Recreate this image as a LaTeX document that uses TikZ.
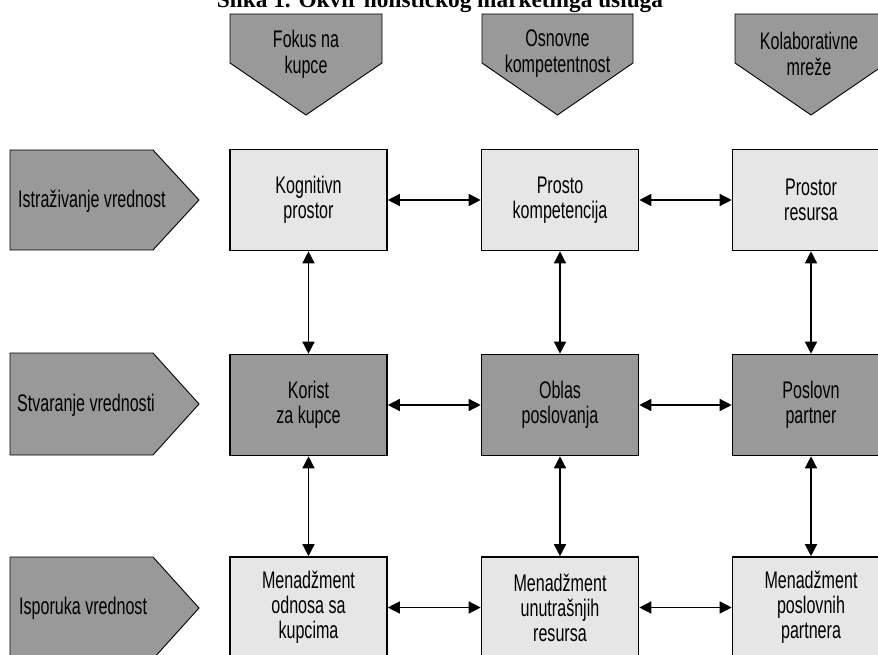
\documentclass[tikz,border=0pt]{standalone}
\usepackage{fontspec}
\setmainfont{Liberation Serif}
\newfontfamily\narrowsf[FakeStretch=0.67]{Liberation Sans}
\usetikzlibrary{arrows.meta,positioning}

\definecolor{darkfill}{HTML}{999999}
\definecolor{lightfill}{HTML}{E6E6E6}

\begin{document}
\begin{tikzpicture}[x=1pt, y=-1pt,
    box/.style={draw, rectangle, line width=1.6pt, minimum width=157pt, minimum height=101pt, inner sep=0pt, align=center, font=\narrowsf\fontsize{24}{25}\selectfont},
    lightbox/.style={box, fill=lightfill},
    darkbox/.style={box, fill=darkfill},
    pent/.style={draw, line width=0.9pt, fill=darkfill},
    headtext/.style={align=center, inner sep=0pt, font=\narrowsf\fontsize{24}{26}\selectfont},
    rowtext/.style={anchor=west, inner sep=0pt, font=\narrowsf\fontsize{24}{26}\selectfont},
    edge/.style={{Triangle[length=12pt,width=12pt]}-{Triangle[length=12pt,width=12pt]}, line width=1.4pt},
    title/.style={font=\bfseries\fontsize{23.3}{28}\selectfont},
]
\clip (0,0) rectangle (878,655);

\node[title, anchor=base] (title) at (440,7.5) {Slika 1. Okvir holističkog marketinga usluga};

% Column heads
\draw[pent] (230,14) -- (382,14) -- (382,63) -- (306,115) -- (230,63) -- cycle;
\draw[pent] (482,14) -- (633,14) -- (633,63) -- (557.5,115) -- (482,63) -- cycle;
\draw[pent] (735,14) -- (887,14) -- (887,63) -- (811,115) -- (735,63) -- cycle;
\node[headtext] (fokus) at (306,54) {Fokus na\\kupce};
\node[headtext] (osnovne) at (557.5,54) {Osnovne\\kompetentnost};
\node[headtext] (kolab) at (809,54) {Kolaborativne\\mreže};

% Row heads
\draw[pent] (10,150) -- (153,150) -- (199,200) -- (153,250) -- (10,250) -- cycle;
\draw[pent] (10,353) -- (153,353) -- (199,404) -- (153,455) -- (10,455) -- cycle;
\draw[pent] (10,557) -- (153,557) -- (199,608) -- (153,659) -- (10,659) -- cycle;
\node[rowtext] (istr) at (18,201) {Istraživanje vrednost};
\node[rowtext] (stvar) at (17,405) {Stvaranje vrednosti};
\node[rowtext] (ispor) at (19,608) {Isporuka vrednost};

% Grid of boxes
\node[lightbox] (kogn) at (308.5,200) {Kognitivn\\prostor};
\node[lightbox] (komp) at (560,200) {Prosto\\kompetencija};
\node[lightbox] (resu) at (811,200) {Prostor\\resursa};

\node[darkbox] (korist) at (308.5,405) {Korist\\za kupce};
\node[darkbox] (oblast) at (560,405) {Oblas\\poslovanja};
\node[darkbox] (partn) at (811,405) {Poslovn\\partner};

\node[lightbox] (mkup) at (308.5,607.5) {Menadžment\\odnosa sa\\kupcima};
\node[lightbox] (mres) at (560,607.5) {Menadžment\\unutrašnjih\\resursa};
\node[lightbox] (mpar) at (811,607.5) {Menadžment\\poslovnih\\partnera};

% Links
\draw[edge] (kogn) -- (komp);
\draw[edge] (komp) -- (resu);
\draw[edge] (korist) -- (oblast);
\draw[edge] (oblast) -- (partn);
\draw[edge] (mkup) -- (mres);
\draw[edge] (mres) -- (mpar);

\draw[edge] (kogn) -- (korist);
\draw[edge] (korist) -- (mkup);
\draw[edge] (komp) -- (oblast);
\draw[edge] (oblast) -- (mres);
\draw[edge] (resu) -- (partn);
\draw[edge] (partn) -- (mpar);

\end{tikzpicture}
\end{document}
